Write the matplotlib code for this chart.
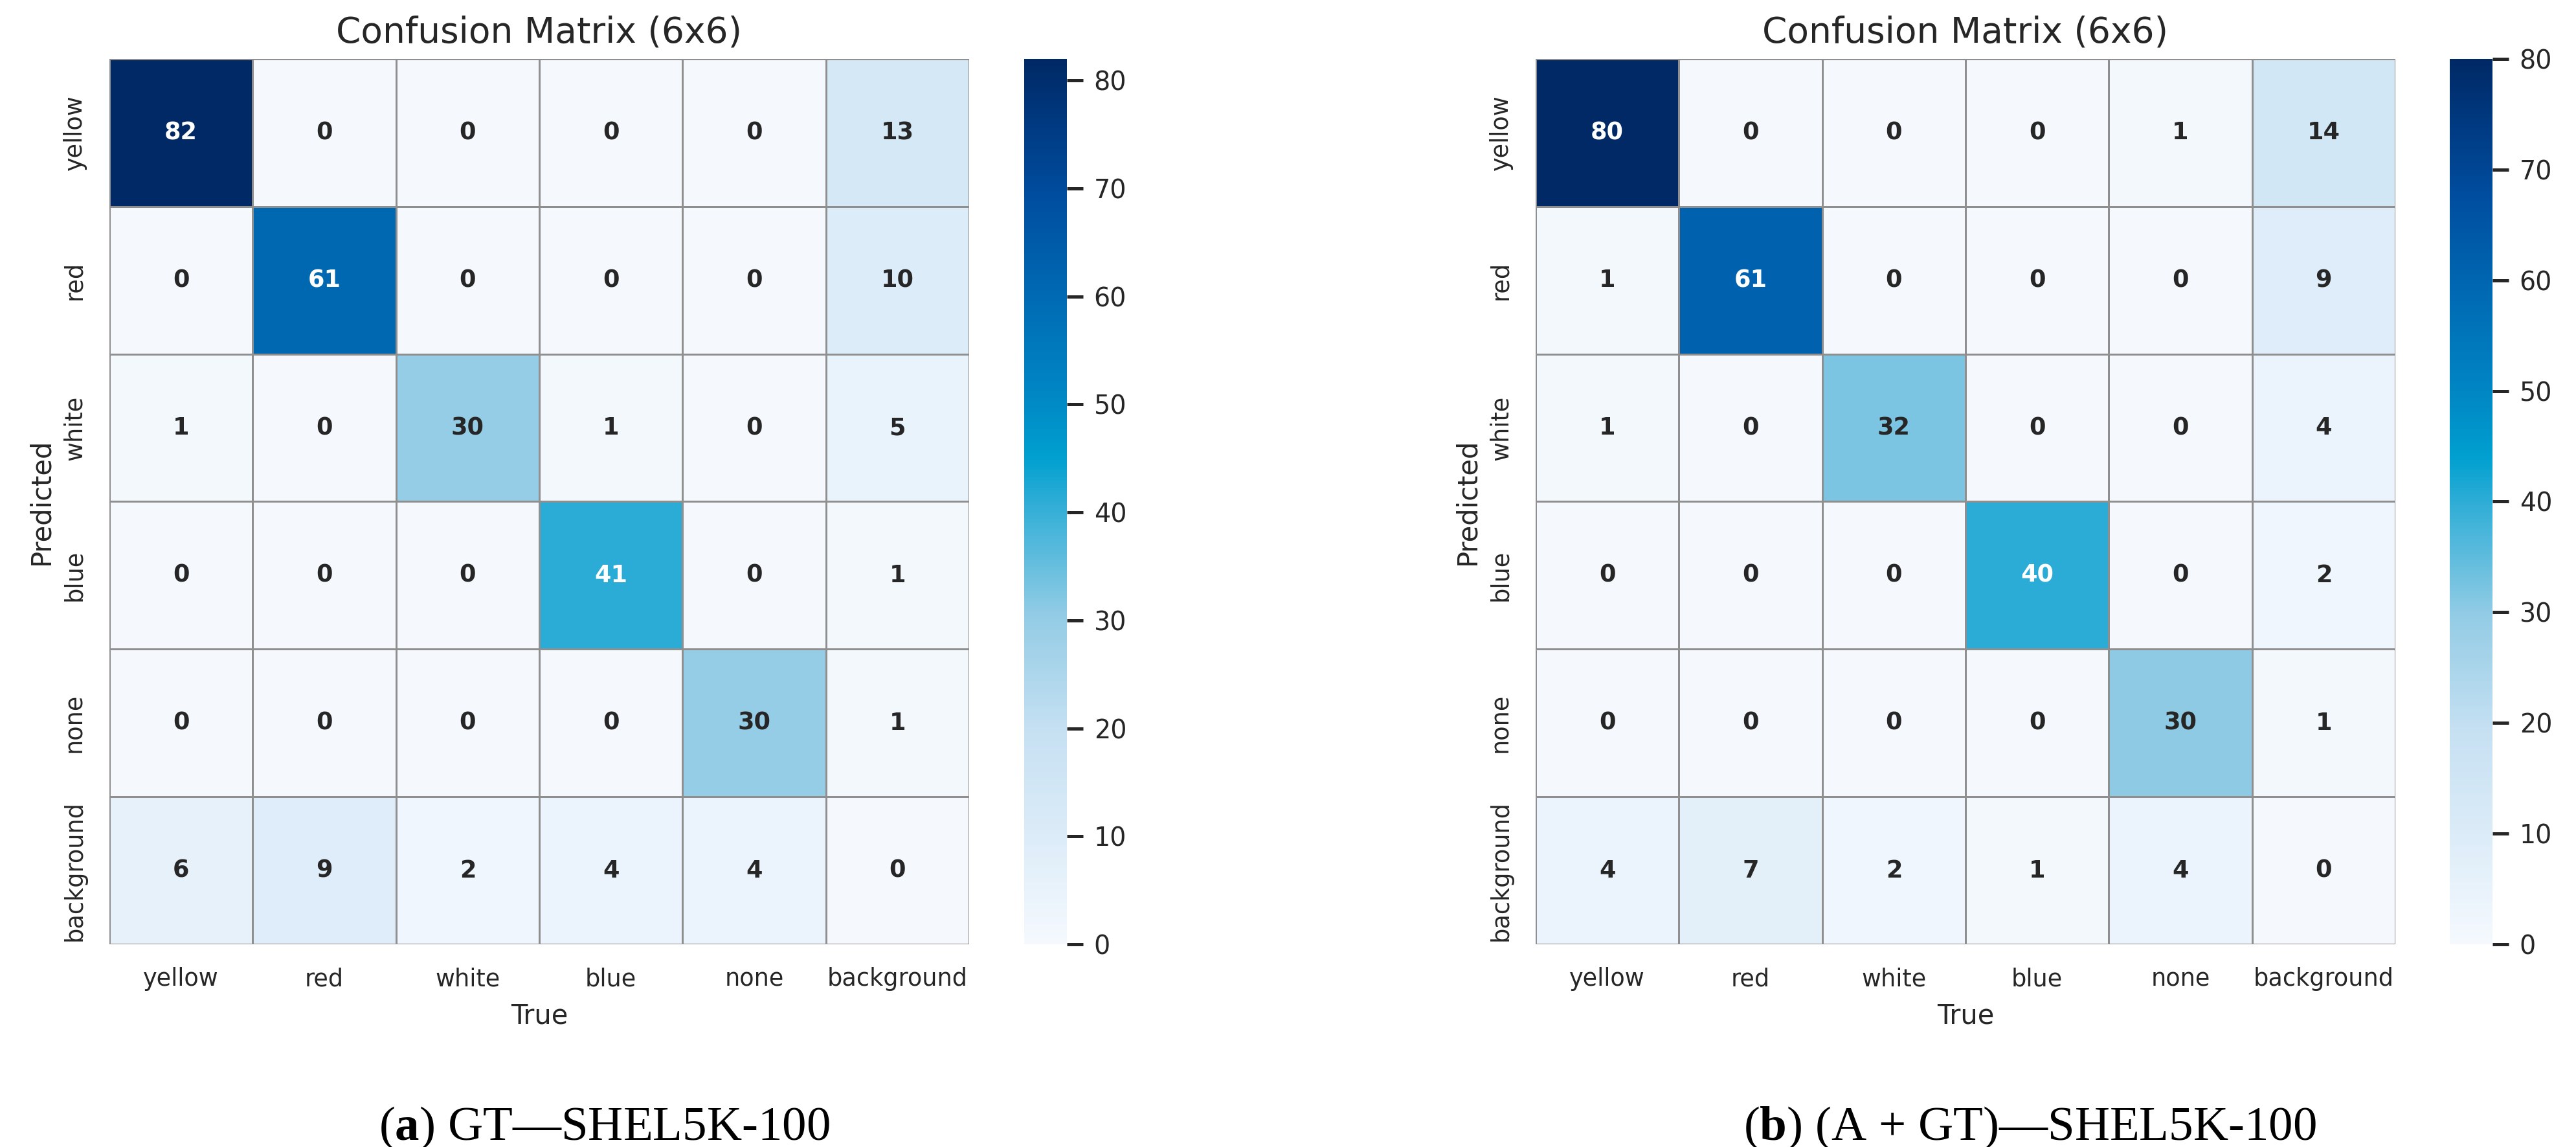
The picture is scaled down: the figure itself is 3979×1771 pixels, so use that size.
import matplotlib
matplotlib.use("Agg")
import matplotlib.pyplot as plt
from matplotlib.colors import LinearSegmentedColormap, to_rgb
import numpy as np

# Clases (mismo orden en filas y columnas)
clases = ["yellow", "red", "white", "blue", "none", "background"]

# (a) GT - SHEL5K-100
matriz_gt = [
    [82, 0, 0, 0, 0, 13],
    [0, 61, 0, 0, 0, 10],
    [1, 0, 30, 1, 0, 5],
    [0, 0, 0, 41, 0, 1],
    [0, 0, 0, 0, 30, 1],
    [6, 9, 2, 4, 4, 0],
]

# (b) (A + GT) - SHEL5K-100
matriz_agt = [
    [80, 0, 0, 0, 1, 14],
    [1, 61, 0, 0, 0, 9],
    [1, 0, 32, 0, 0, 4],
    [0, 0, 0, 40, 0, 2],
    [0, 0, 0, 0, 30, 1],
    [4, 7, 2, 1, 4, 0],
]

titulo = "Confusion Matrix (6x6)"
subtitulos = [r"($\mathbf{a}$) GT—SHEL5K-100", r"($\mathbf{b}$) (A + GT)—SHEL5K-100"]
cb_ticks = [0, 10, 20, 30, 40, 50, 60, 70, 80]

# Paleta azul (tipo Blues, algo más saturada)
paleta = LinearSegmentedColormap.from_list("azules", [
    (0.00, "#f5f9fe"),
    (0.12, "#dcecf8"),
    (0.24, "#c6e0f2"),
    (0.37, "#93cce5"),
    (0.49, "#36afd7"),
    (0.55, "#00a0d0"),
    (0.61, "#008ac6"),
    (0.73, "#006bb4"),
    (0.85, "#004c9e"),
    (1.00, "#002966"),
])

plt.rcParams["font.family"] = ["DejaVu Sans"]
plt.rcParams["mathtext.fontset"] = "custom"
plt.rcParams["mathtext.rm"] = "Liberation Serif"
plt.rcParams["mathtext.bf"] = "Liberation Serif:bold"

oscuro = "#262626"


def luminancia(c):
    rgb = np.array(to_rgb(c))
    rgb = np.where(rgb <= .03928, rgb / 12.92, ((rgb + .055) / 1.055) ** 2.4)
    return rgb.dot([.2126, .7152, .0722])


def dibujar(fig, matriz, x_mapa, x_barra, subtitulo, x_sub):
    datos = np.array(matriz, dtype=float)
    vmax = datos.max()
    ax = fig.add_axes([x_mapa, 0.17674, 0.33375, 0.77188])
    cax = fig.add_axes([x_barra, 0.17674, 0.01659, 0.77188])

    malla = ax.pcolormesh(datos, cmap=paleta, vmin=0, vmax=vmax,
                          edgecolors="#8f8f8f", linewidth=0.6)
    ax.set_xlim(0, len(clases))
    ax.set_ylim(len(clases), 0)
    for s in ax.spines.values():
        s.set_visible(False)

    # Números dentro de cada celda
    for i in range(datos.shape[0]):
        for j in range(datos.shape[1]):
            color_celda = paleta(datos[i, j] / vmax)
            color_txt = oscuro if luminancia(color_celda) > .408 else "white"
            ax.text(j + 0.5, i + 0.5, "%d" % datos[i, j], ha="center", va="center",
                    fontsize=8.8, fontweight="bold", color=color_txt)

    ax.set_xticks(np.arange(len(clases)) + 0.5)
    ax.set_yticks(np.arange(len(clases)) + 0.5)
    ax.set_xticklabels(clases)
    ax.set_yticklabels(clases, rotation=90, va="center")
    ax.tick_params(length=0, pad=8.5, labelsize=8.8, colors=oscuro)
    ax.set_xlabel("True", fontsize=10, color=oscuro, labelpad=4)
    ax.set_ylabel("Predicted", fontsize=10, color=oscuro, labelpad=3)
    ax.set_title(titulo, fontsize=13.2, color=oscuro, pad=6)

    cb = fig.colorbar(malla, cax=cax)
    cb.outline.set_visible(False)
    cb.set_ticks(cb_ticks)
    cax.tick_params(length=6, width=1.2, color=oscuro, labelsize=9.5,
                    labelcolor=oscuro, pad=4)

    fig.text(x_sub, 0.0062, subtitulo, ha="center", va="baseline",
             fontsize=18, family="Liberation Serif", color="black")


fig = plt.figure(figsize=(3979 / 300, 1771 / 300), dpi=300)
dibujar(fig, matriz_gt, 0.04247, 0.39759, subtitulos[0], 0.2345)
dibujar(fig, matriz_agt, 0.59613, 0.95099, subtitulos[1], 0.788)
fig.savefig("out.png", dpi=300, facecolor="white")
